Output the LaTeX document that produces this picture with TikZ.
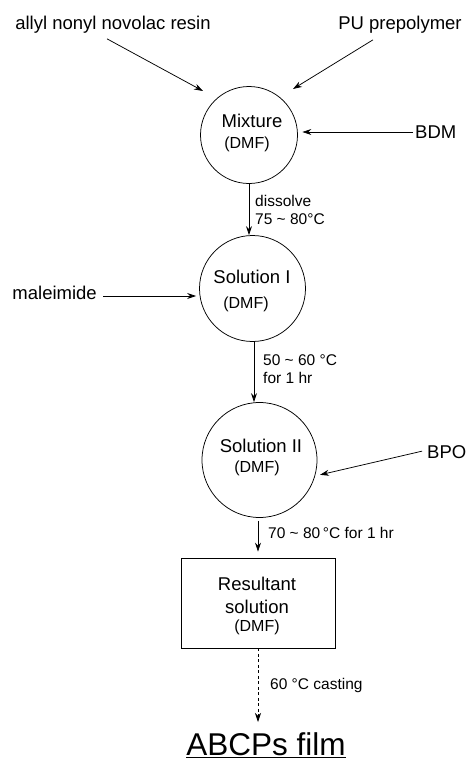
\documentclass[tikz,border=0pt]{standalone}
\usepackage{fontspec}
\setmainfont{Liberation Sans}
\usetikzlibrary{arrows.meta,calc}
\begin{document}
\begin{tikzpicture}[x=1pt,y=-1pt,
  main/.style={font=\fontsize{18.5}{22}\selectfont, inner sep=0pt},
  dmf/.style={font=\fontsize{16}{19}\selectfont, inner sep=0pt},
  lbl/.style={font=\fontsize{15.5}{17.5}\selectfont, inner sep=0pt, anchor=west, align=left},
  circ/.style={draw, circle, inner sep=0pt, line width=0.75pt},
  boxn/.style={draw, rectangle, inner sep=0pt, line width=0.75pt},
  arr/.style={-{Stealth[length=9pt,width=6pt]}, line width=0.75pt},
]
\useasboundingbox (0,0) rectangle (476,763);

% inputs
\node[main] (allyl) at (113,25) {allyl nonyl novolac resin};
\node[main] (pu) at (400,25) {PU prepolymer};
\node[main, anchor=west] (bdm) at (415,132) {BDM};
\node[main, anchor=east] (mal) at (97,293) {maleimide};
\node[main, anchor=west] (bpo) at (427,452) {BPO};

% Mixture
\node[circ, minimum size=97pt] (mix) at (249,135) {};
\node[main] (mixt) at (252,121) {Mixture};
\node[dmf] (mixd) at (247,144) {(DMF)};

% Solution I
\node[circ, minimum size=106pt] (sol1) at (252.5,288.5) {};
\node[main] (sol1t) at (252,277) {Solution I};
\node[dmf] (sol1d) at (246,304) {(DMF)};

% Solution II
\node[circ, minimum size=115pt] (sol2) at (259.5,460) {};
\node[main] (sol2t) at (261,446) {Solution II};
\node[dmf] (sol2d) at (257,468) {(DMF)};

% Resultant box
\node[boxn, minimum width=154pt, minimum height=90pt] (box) at (258,603) {};
\node[main] (boxt1) at (257,584) {Resultant};
\node[main] (boxt2) at (257,607) {solution};
\node[dmf] (boxd) at (257,627) {(DMF)};

% final product
\node[font=\fontsize{31.5}{36}\selectfont, inner sep=0pt, anchor=base] (film) at (266,755) {\underline{ABCPs film}};

% labels
\node[lbl] (l1) at (255,210) {dissolve\\75 \textasciitilde{} 80°C};
\node[lbl] (l2) at (263,369) {50 \textasciitilde{} 60 °C\\for 1 hr};
\node[lbl] (l3) at (268,533) {70 \textasciitilde{} 80\,°C for 1 hr};
\node[lbl] (l4) at (270,685) {60 °C casting};

% connectors
\coordinate (mixinL) at (203,91);
\coordinate (mixinR) at (293,89);
\draw[arr] ([xshift=-6pt,yshift=-5pt]allyl.south) -- (mixinL);
\draw[arr] ([xshift=-27pt,yshift=-6pt]pu.south) -- (mixinR);
\draw[arr, shorten <=2pt, shorten >=4.5pt] (bdm.west) -- (bdm.west -| mix.east);
\draw[arr, shorten <=6pt, shorten >=3pt] ([yshift=-3pt]mal.east) -- ([yshift=-3pt]mal.east -| sol1.west);
\draw[arr, shorten <=5pt, shorten >=5pt] ([yshift=2pt]bpo.west) -- (sol2.-16);

\draw[arr] (mix.south) -- (mix.south |- sol1.north);
\draw[arr] ([xshift=1.5pt]sol1.south) -- ([xshift=1.5pt]sol1.south |- sol2.north);
\draw[arr, shorten <=3pt, shorten >=6pt] (box.north |- sol2.south) -- (box.north);
\draw[arr, dashed, dash pattern=on 3pt off 2.5pt] (box.south) -- (box.south |- 0,722);
\end{tikzpicture}
\end{document}
